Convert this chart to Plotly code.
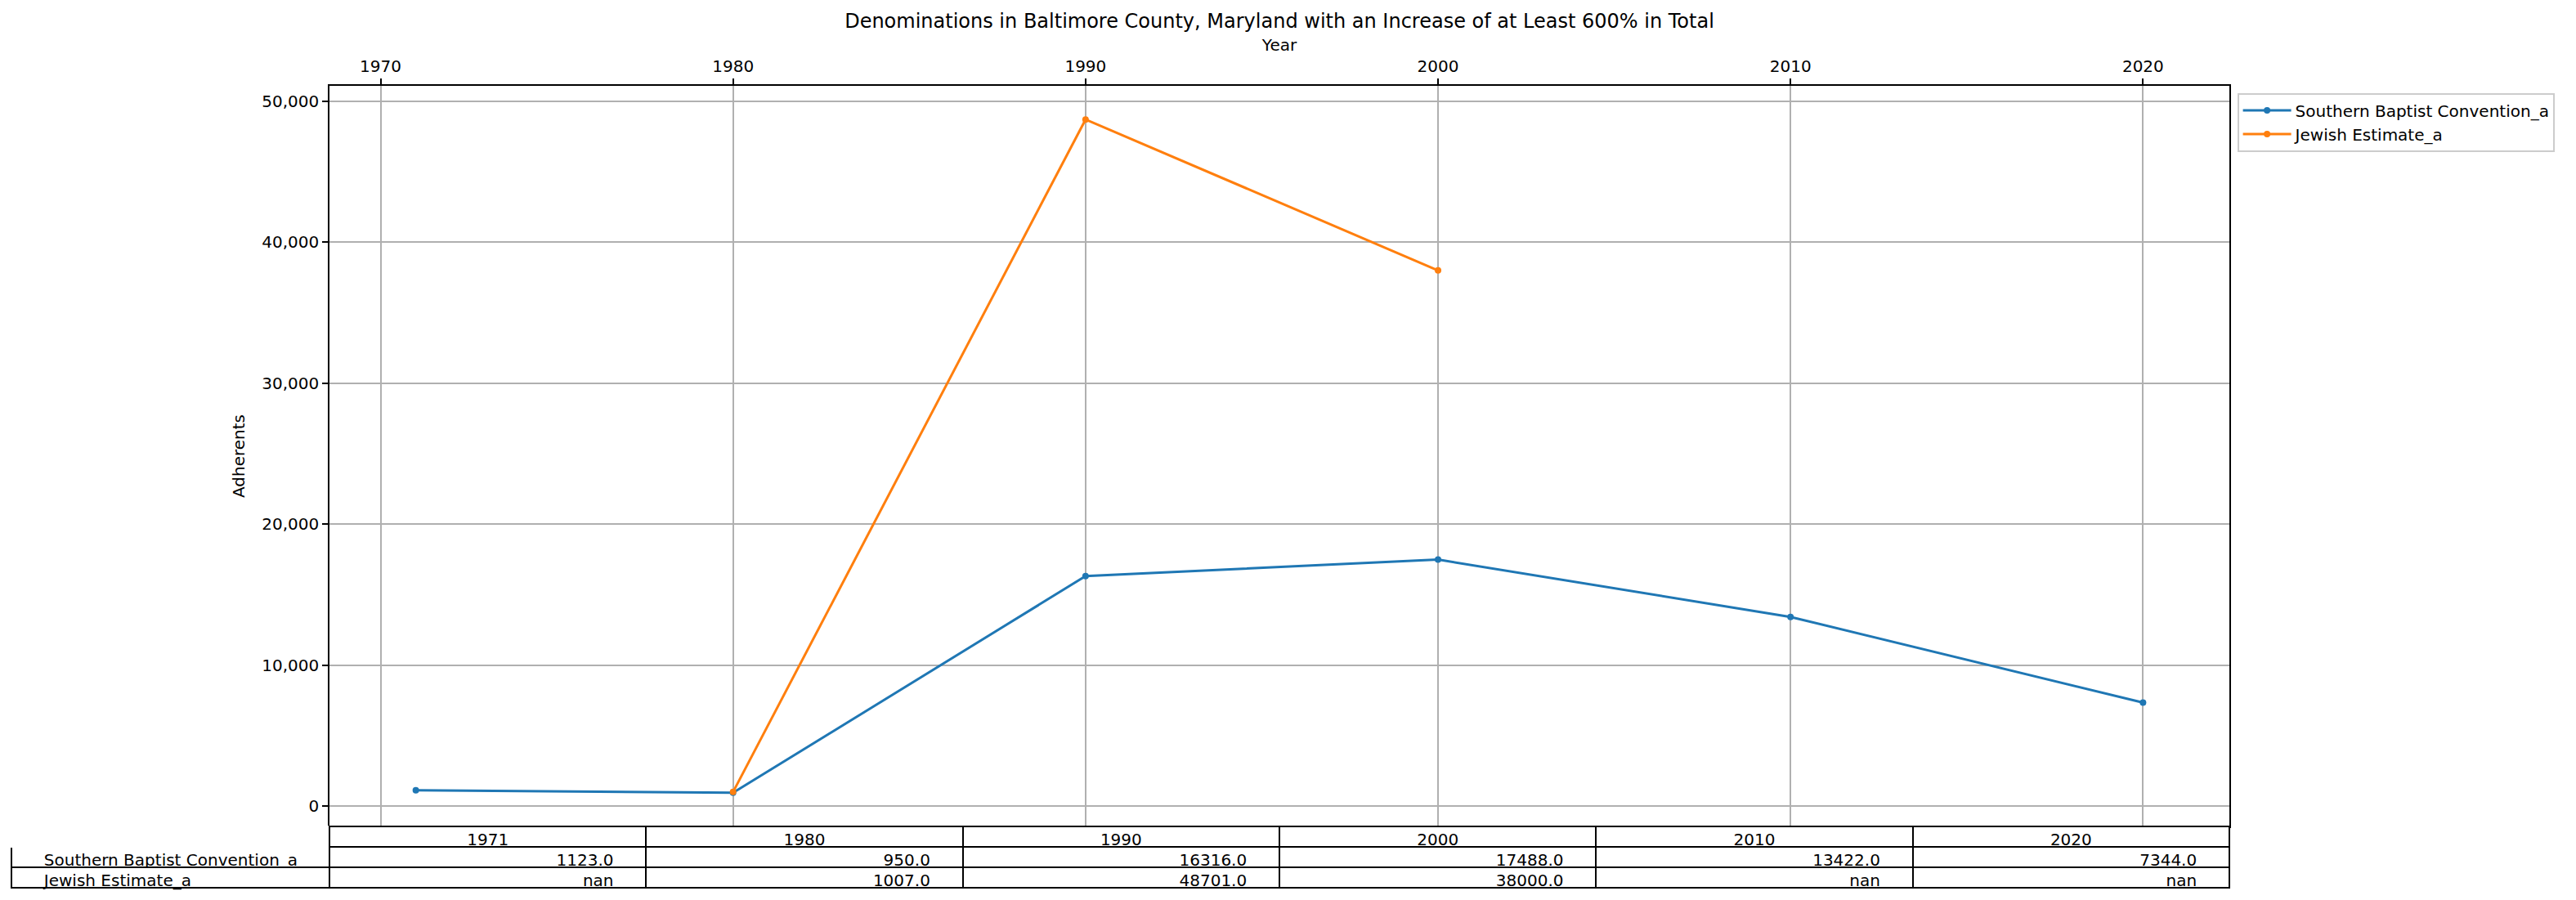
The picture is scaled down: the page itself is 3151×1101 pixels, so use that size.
import plotly.graph_objects as go

# ---- data ----
years = [1971, 1980, 1990, 2000, 2010, 2020]
series_names = ["Southern Baptist Convention_a", "Jewish Estimate_a"]
southern_baptist = [1123.0, 950.0, 16316.0, 17488.0, 13422.0, 7344.0]
jewish_estimate = [None, 1007.0, 48701.0, 38000.0, None, None]
x_ticks = [1970, 1980, 1990, 2000, 2010, 2020]
y_ticks = [0, 10000, 20000, 30000, 40000, 50000]
title_text = "Denominations in Baltimore County, Maryland with an Increase of at Least 600% in Total"

colors = ["#1f77b4", "#ff7f0e"]
series_values = [southern_baptist, jewish_estimate]

OFF = 8  # browser default body margin
W, H = 3151 - OFF, 1101 - OFF
# layout targets in page pixels, converted to figure pixels
def px(v):
    return v - OFF

ML, MT = px(14), px(105)
RIGHT, BOTTOM = px(3135), px(1091)
MR, MB = W - RIGHT, H - BOTTOM
PW = W - ML - MR
PH = H - MT - MB
AX_L, AX_R, AX_B = px(403), px(2727), px(1011)
xdom = [(AX_L - ML) / PW, (AX_R - ML) / PW]
ydom = [(BOTTOM - AX_B) / PH, 1.0]

# autoscale ranges with 5% margin, like the original
xmin, xmax = min(years), max(years)
xpad = 0.05 * (xmax - xmin)
allv = [v for s in series_values for v in s if v is not None]
ymin, ymax = min(allv), max(allv)
ypad = 0.05 * (ymax - ymin)

font = "DejaVu Sans"
fig = go.Figure()
for name, vals, col in zip(series_names, series_values, colors):
    fig.add_trace(go.Scatter(
        x=years, y=vals, name=name, mode="lines+markers",
        line=dict(color=col, width=3), marker=dict(color=col, size=8),
        connectgaps=False,
    ))

# table below the axes
def fmt(v):
    return "nan" if v is None else f"{v:.1f}"

nb = "\u00a0"
header_vals = [""] + [str(y) for y in years]
cell_cols = [[n.replace(" ", nb) for n in series_names]]
for i in range(len(years)):
    cell_cols.append([fmt(s[i]) for s in series_values])

fig.add_trace(go.Table(
    domain=dict(x=[0, xdom[1]], y=[0, ydom[0]]),
    columnwidth=[AX_L - ML] + [(AX_R - AX_L) / len(years)] * len(years),
    header=dict(
        values=header_vals, align="center", height=25,
        fill=dict(color="white"),
        line=dict(color=["white"] + ["black"] * len(years), width=2),
        font=dict(family=font, size=20, color="black"),
    ),
    cells=dict(
        values=cell_cols, align=["left"] + ["right"] * len(years), height=25,
        fill=dict(color="white"),
        line=dict(color="black", width=2),
        prefix=[nb * 5] + [""] * len(years),
        suffix=[""] + [nb * 5] * len(years),
        font=dict(family=font, size=20, color="black"),
    ),
))

fig.update_layout(
    width=W, height=H,
    margin=dict(l=ML, r=MR, t=MT, b=MB),
    paper_bgcolor="white", plot_bgcolor="white",
    font=dict(family=font, size=20, color="black"),
    title=dict(text=title_text, font=dict(size=24, color="black"),
               xref="paper", x=((AX_L + AX_R) / 2 - ML) / PW, xanchor="center",
               yref="container", y=1 - px(26) / H, yanchor="middle"),
    xaxis=dict(
        domain=xdom, side="top", anchor="y",
        range=[xmin - xpad, xmax + xpad],
        tickvals=x_ticks, ticktext=[str(t) for t in x_ticks],
        ticks="outside", ticklen=7, tickwidth=1.6, tickcolor="black",
        showline=True, linecolor="black", linewidth=1.6, mirror=True,
        showgrid=True, gridcolor="#b0b0b0", gridwidth=1.6, zeroline=False,
        title=dict(text="Year", standoff=1, font=dict(size=20)),
        tickfont=dict(size=20),
    ),
    yaxis=dict(
        domain=ydom, anchor="x",
        range=[ymin - ypad, ymax + ypad],
        tickvals=y_ticks, tickformat=",",
        ticks="outside", ticklen=7, tickwidth=1.6, tickcolor="black",
        showline=True, linecolor="black", linewidth=1.6, mirror=True,
        showgrid=True, gridcolor="#b0b0b0", gridwidth=1.6, zeroline=False,
        title=dict(text="Adherents", standoff=15, font=dict(size=20)),
        tickfont=dict(size=20),
    ),
    legend=dict(
        x=(px(2737) - ML) / PW, y=1 - (px(114) - MT) / PH, xanchor="left", yanchor="top",
        bgcolor="white", bordercolor="#cccccc", borderwidth=1.6,
        font=dict(size=20, color="black"), itemwidth=59,
    ),
    showlegend=True,
)

fig.write_html("out.html")
